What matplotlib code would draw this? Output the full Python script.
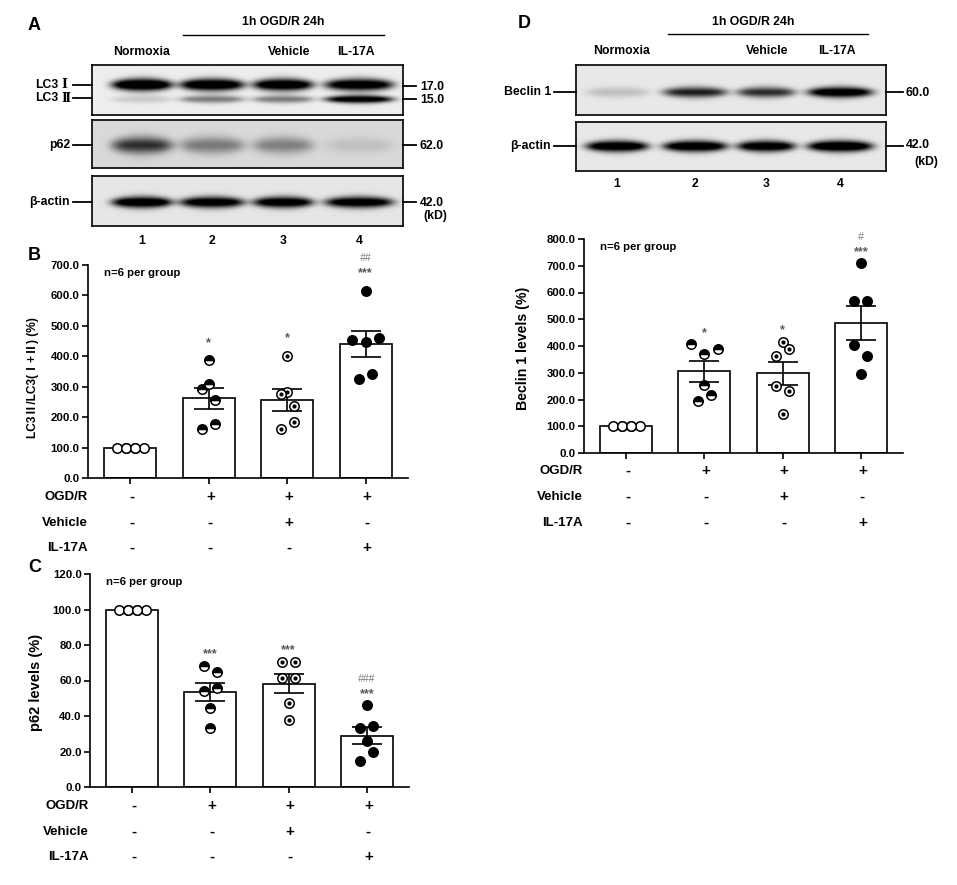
import numpy as np
import matplotlib
matplotlib.use("Agg")
import matplotlib.pyplot as plt
from matplotlib import transforms
from matplotlib.ticker import FormatStrFormatter, MultipleLocator

W, H = 957, 885

# ---- data ----
lane_numbers = ["1", "2", "3", "4"]
blot_groups = ["Normoxia", "Vehicle", "IL-17A"]
row_names = ["OGD/R", "Vehicle", "IL-17A"]
row_signs = [["-", "+", "+", "+"],
             ["-", "-", "+", "-"],
             ["-", "-", "-", "+"]]

# band darkness per lane (0 = no band, 1 = saturated)
lc3_1_band = [0.95, 0.9, 0.88, 0.85]
lc3_2_band = [0.1, 0.33, 0.33, 0.8]
p62_band = [0.5, 0.28, 0.26, 0.07]
actin_a_band = [0.85, 0.8, 0.8, 0.8]
beclin_band = [0.12, 0.6, 0.55, 0.82]
actin_d_band = [0.85, 0.85, 0.82, 0.9]

# B: LC3II/LC3(I+II)
lc3_mean = [100, 262, 256, 440]
lc3_sem = [0, 35, 35, 42]
lc3_points = [[100, 100, 100, 100, 100, 100],
              [388, 308, 291, 256, 178, 161],
              [402, 284, 276, 237, 185, 161],
              [616, 459, 453, 448, 341, 324]]
lc3_stars = ["", "*", "*", "***"]
lc3_hash = ["", "", "", "##"]

# C: p62
p62_mean = [100, 53.5, 58.3, 29.0]
p62_sem = [0, 5.2, 5.3, 4.6]
p62_points = [[100, 100, 100, 100, 100, 100],
              [68.2, 65.0, 56.0, 54.1, 44.7, 33.4],
              [70.6, 70.6, 61.6, 61.6, 47.5, 37.7],
              [46.0, 34.4, 33.4, 25.9, 19.5, 14.6]]
p62_stars = ["", "***", "***", "***"]
p62_hash = ["", "", "", "###"]

# D: Beclin 1
bec_mean = [100, 305, 298, 485]
bec_sem = [0, 38, 42, 63]
bec_points = [[100, 100, 100, 100, 100, 100],
              [406, 387.5, 369, 256, 216, 194],
              [415, 387.5, 362.5, 251, 232.5, 145],
              [709, 567.5, 567.5, 404, 364, 295]]
bec_stars = ["", "*", "*", "***"]
bec_hash = ["", "", "", "#"]

# horizontal scatter offsets (layout only)
j = 0.085
open_jit = [-0.17, -0.06, 0.06, 0.17, -0.06, 0.06]
lc3_jit = [open_jit, [0, 0, -j, j, j, -j], [0, 0, -j, j, j, -j],
           [0, 2 * j, -2 * j, 0, j, -j]]
p62_jit = [open_jit, [-j, j, j, -j, 0, 0], [-j, j, -j, j, 0, 0],
           [0, j, -j, 0, j, -j]]
bec_jit = [open_jit, [-2 * j, 2 * j, 0, 0, j, -j], [0, j, -j, -j, j, 0],
           [0, -j, j, -j, j, 0]]

plt.rcParams["font.family"] = ["Liberation Sans", "Noto Sans CJK SC", "DejaVu Sans"]
plt.rcParams["font.weight"] = "bold"
SERIF = ["DejaVu Serif", "Noto Sans CJK SC"]

fig = plt.figure(figsize=(W / 100, H / 100), dpi=100)
fig.patch.set_facecolor("white")


def px_axes(x0, y0, x1, y1):
    return fig.add_axes([x0 / W, 1 - y1 / H, (x1 - x0) / W, (y1 - y0) / H])


ov = fig.add_axes([0, 0, 1, 1], zorder=5)
ov.set_xlim(0, W)
ov.set_ylim(H, 0)
ov.axis("off")
ov.patch.set_alpha(0)


def blot(box, centers, widths, bands, bg):
    x0, y0, x1, y1 = box
    ax = px_axes(x0, y0, x1, y1)
    xs = np.arange(x0, x1, 0.5)
    ys = np.arange(y0, y1, 0.5)
    X, Y = np.meshgrid(xs, ys)
    dark = np.zeros_like(X)
    for yc, sy, vals in bands:
        for c, w, v in zip(centers, widths, vals):
            hprof = np.exp(-np.abs((X - c) / (w / 2)) ** 5)
            half = sy * (0.55 + 0.45 * np.exp(-((X - c) / (w / 2)) ** 2))
            vprof = np.exp(-0.5 * ((Y - yc) / half) ** 2)
            dark += 1.35 * v * hprof * vprof
    img = np.clip(bg - dark, 0, 1)
    ax.imshow(img, cmap="gray", vmin=0, vmax=1, extent=[x0, x1, y1, y0],
              aspect="auto", interpolation="bilinear")
    ax.set_xlim(x0, x1)
    ax.set_ylim(y1, y0)
    ax.set_xticks([])
    ax.set_yticks([])
    for s in ax.spines.values():
        s.set_linewidth(1.2)
    return ax


def marker_line(x0, x1, y):
    ov.plot([x0, x1], [y, y], color="black", lw=1.3)


# ---- panel A blots ----
a_centers = [142, 212, 283, 359]
a_widths = [60, 64, 60, 68]
ov.text(28, 25, "A", fontsize=13, ha="left", va="center")
ov.text(283, 22, "1h OGD/R 24h", fontsize=8.8, ha="center", va="center")
ov.plot([183, 384], [35, 35], color="black", lw=1)
for name, xc in zip(blot_groups, [142, 289, 356]):
    ov.text(xc, 52, name, fontsize=8.8, ha="center", va="center")

blot((92, 65, 403, 115), a_centers, a_widths,
     [(84.5, 4.3, lc3_1_band), (99, 2.8, lc3_2_band)], 0.93)
blot((92, 120, 403, 168), a_centers, a_widths,
     [(145, 6.0, p62_band)], 0.85)
blot((92, 176, 403, 226), a_centers, a_widths,
     [(202, 4.0, actin_a_band)], 0.9)

for num, y in [("Ⅰ", 85), ("Ⅱ", 98)]:
    ov.text(58, y, "LC3", fontsize=8.8, ha="right", va="center")
    ov.text(61, y, num, fontsize=8.8, ha="left", va="center", family=SERIF)
    marker_line(73, 92, y)
for lab, y in [("p62", 145), ("β-actin", 202)]:
    ov.text(70, y, lab, fontsize=8.8, ha="right", va="center")
    marker_line(73, 92, y)
for lab, y in [("17.0", 87), ("15.0", 100), ("62.0", 146), ("42.0", 203)]:
    ov.text(420, y, lab, fontsize=8.8, ha="left", va="center")
for y in [86, 99, 145, 202]:
    marker_line(403, 416, y)
ov.text(423, 216, "(kD)", fontsize=8.8, ha="left", va="center")
for n, xc in zip(lane_numbers, a_centers):
    ov.text(xc, 241, n, fontsize=8.8, ha="center", va="center")

# ---- panel D blots ----
d_centers = [617, 695, 766, 840]
d_widths = [62, 64, 58, 65]
ov.text(518, 24, "D", fontsize=13, ha="left", va="center")
ov.text(753, 22, "1h OGD/R 24h", fontsize=8.8, ha="center", va="center")
ov.plot([668, 868], [34, 34], color="black", lw=1)
for name, xc in zip(blot_groups, [622, 767, 837]):
    ov.text(xc, 51, name, fontsize=8.8, ha="center", va="center")

blot((576, 65, 886, 115), d_centers, d_widths,
     [(92, 3.8, beclin_band)], 0.91)
blot((576, 122, 886, 171), d_centers, d_widths,
     [(146, 4.0, actin_d_band)], 0.91)
for lab, y in [("Beclin 1", 92), ("β-actin", 146)]:
    ov.text(551, y, lab, fontsize=8.8, ha="right", va="center")
    marker_line(554, 576, y)
    marker_line(886, 903, y)
ov.text(906, 93, "60.0", fontsize=8.8, ha="left", va="center")
ov.text(906, 145, "42.0", fontsize=8.8, ha="left", va="center")
ov.text(914, 162, "(kD)", fontsize=8.8, ha="left", va="center")
for n, xc in zip(lane_numbers, d_centers):
    ov.text(xc, 184, n, fontsize=8.8, ha="center", va="center")


# ---- bar panels ----
def scatter_group(ax, i, vals, jit):
    xs = [i + d for d in jit]
    kw = dict(linestyle="none", marker="o", markersize=6.8,
              markeredgecolor="black", markeredgewidth=1.1, zorder=4)
    if i == 0:
        ax.plot(xs, vals, markerfacecolor="white", **kw)
    elif i == 1:
        ax.plot(xs, vals, fillstyle="top", markerfacecolor="black",
                markerfacecoloralt="white", **kw)
    elif i == 2:
        ax.plot(xs, vals, markerfacecolor="white", **kw)
        ax.plot(xs, vals, linestyle="none", marker="o", markersize=2,
                color="black", zorder=5)
    else:
        ax.plot(xs, vals, markerfacecolor="black", **kw)


def bar_panel(box, means, sems, points, jit, ymax, nticks, stars, hashes,
              star_off, rows_y, label_right, ylabel, ylabel_xy, ylabel_size,
              letter_xy, letter):
    ax = px_axes(*box)
    x = np.arange(4)
    ax.bar(x, means, width=0.665, color="white", edgecolor="black",
           linewidth=1.2, zorder=1)
    ax.errorbar(x[1:], means[1:], yerr=sems[1:], fmt="none", ecolor="black",
                elinewidth=1.2, capsize=10.5, capthick=1.2, zorder=3)
    for i in range(4):
        scatter_group(ax, i, points[i], jit[i])
        if stars[i]:
            ax.annotate(stars[i], xy=(i, max(points[i])), xytext=(0, star_off),
                        textcoords="offset points", ha="center", va="bottom",
                        fontsize=9, color="#5a5a5a")
        if hashes[i]:
            ax.annotate(hashes[i], xy=(i, max(points[i])),
                        xytext=(0, star_off + 11.5),
                        textcoords="offset points", ha="center", va="bottom",
                        fontsize=7.5, color="#7a7a7a", fontweight="normal",
                        fontstyle="italic")
    ax.set_xlim(-0.54, 3.54)
    ax.set_ylim(0, ymax)
    ax.yaxis.set_major_locator(MultipleLocator(ymax / nticks))
    ax.yaxis.set_major_formatter(FormatStrFormatter("%.1f"))
    ax.set_xticks(x)
    ax.set_xticklabels([])
    for s in ["top", "right"]:
        ax.spines[s].set_visible(False)
    for s in ["left", "bottom"]:
        ax.spines[s].set_linewidth(1.2)
    ax.tick_params(width=1.2, length=4, labelsize=8.2, pad=2)
    ax.patch.set_alpha(0)
    ax.text(0.05, 0.985, "n=6 per group", transform=ax.transAxes,
            fontsize=8.2, ha="left", va="top")
    trans = transforms.blended_transform_factory(ax.transData, ov.transData)
    for name, signs, y in zip(row_names, row_signs, rows_y):
        ov.text(label_right, y, name, fontsize=9.5, ha="right", va="center")
        for i, s in enumerate(signs):
            ax.text(i + 0.02, y, s, transform=trans, fontsize=11,
                    ha="center", va="center", clip_on=False)
    ov.text(ylabel_xy[0], ylabel_xy[1], ylabel, rotation=90,
            fontsize=ylabel_size, ha="center", va="center")
    ov.text(letter_xy[0], letter_xy[1], letter, fontsize=13, ha="left",
            va="center")
    return ax


bar_panel((88, 265, 408, 478), lc3_mean, lc3_sem, lc3_points, lc3_jit, 700, 7,
          lc3_stars, lc3_hash, 8, [497, 523, 548], 88,
          "LC3Ⅱ/LC3(Ⅰ+Ⅱ) (%)", (33, 378), 8.6, (28, 256), "B")
bar_panel((90, 574, 409, 787), p62_mean, p62_sem, p62_points, p62_jit, 120, 6,
          p62_stars, p62_hash, 4, [806, 832, 857], 89,
          "p62 levels (%)", (36, 682), 10.5, (28, 568), "C")
bar_panel((584, 239, 903, 453), bec_mean, bec_sem, bec_points, bec_jit, 800, 8,
          bec_stars, bec_hash, 4, [471, 497, 523], 583,
          "Beclin 1 levels (%)", (523, 348), 10.2, (0, 0), "")

fig.savefig("out.png", dpi=100, facecolor="white")
